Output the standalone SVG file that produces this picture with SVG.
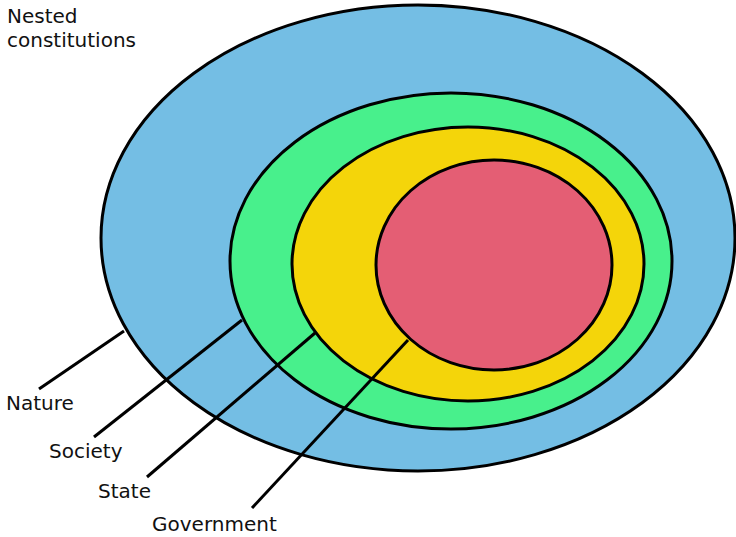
<svg xmlns="http://www.w3.org/2000/svg" width="736" height="537" viewBox="0 0 736 537">
<style>
.e{stroke:#000;stroke-width:3}
.c line{stroke:#000;stroke-width:3}
text{font-family:"DejaVu Sans",sans-serif;font-size:20px;fill:#111}
</style>
<rect width="736" height="537" fill="#fff"/>
<g id="nature"><ellipse class="e" cx="418" cy="238" rx="317" ry="233" fill="#74BEE4"/></g>
<g id="society"><ellipse class="e" cx="451" cy="261" rx="221" ry="168" fill="#48F08C"/></g>
<g id="state"><ellipse class="e" cx="468" cy="264" rx="176" ry="137" fill="#F4D50A"/></g>
<g id="government"><ellipse class="e" cx="494" cy="265" rx="118" ry="105" fill="#E45E74"/></g>
<g class="c" id="connectors">
<line x1="124" y1="331" x2="39" y2="389"/>
<line x1="242" y1="320" x2="94" y2="437"/>
<line x1="315" y1="333" x2="147" y2="477"/>
<line x1="408" y1="340" x2="252" y2="508"/>
</g>
<g id="labels">
<text x="7" y="23">Nested</text>
<text x="7" y="47">constitutions</text>
<text x="6" y="410">Nature</text>
<text x="49" y="458">Society</text>
<text x="98" y="498">State</text>
<text x="152" y="531">Government</text>
</g>
</svg>
